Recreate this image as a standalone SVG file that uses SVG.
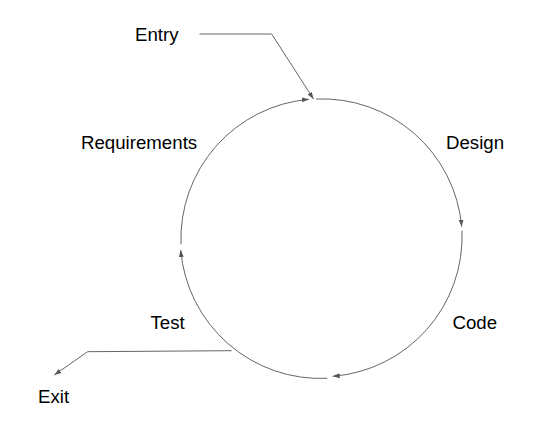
<svg xmlns="http://www.w3.org/2000/svg" width="543" height="429" viewBox="0 0 543 429">
<style>
.lbl{font-family:"Liberation Sans",Arial,sans-serif;font-size:18.67px;fill:#000}
.c{fill:none;stroke:#666;stroke-width:1;marker-end:url(#ah)}
</style>
<defs>
<marker id="ah" markerUnits="userSpaceOnUse" markerWidth="8" markerHeight="6" refX="7" refY="3" orient="auto">
<path d="M0,0.6 L7,3 L0,5.4 z" fill="#555"/>
</marker>
</defs>
<rect width="543" height="429" fill="#fff"/>
<g id="connectors">
<path class="c" d="M316,99 A140.3,140.3 0 0 1 461.7,226.7"/>
<path class="c" d="M462,230.7 A140.3,140.3 0 0 1 332.7,376.3"/>
<path class="c" d="M327.3,378.3 A140.3,140.3 0 0 1 180.7,250"/>
<path class="c" d="M181,244.3 A140.3,140.3 0 0 1 309,99.3"/>
<path class="c" d="M199.5,34 L271.7,34 L313.5,99"/>
<path class="c" d="M231.7,350.7 L87.7,351.7 L54.3,375"/>
</g>
<g id="entry"><text class="lbl" x="135" y="41">Entry</text></g>
<g id="design"><text class="lbl" x="446" y="149">Design</text></g>
<g id="code"><text class="lbl" x="452.5" y="329">Code</text></g>
<g id="test"><text class="lbl" x="150.5" y="329">Test</text></g>
<g id="requirements"><text class="lbl" x="81" y="149">Requirements</text></g>
<g id="exit"><text class="lbl" x="38" y="403">Exit</text></g>
</svg>
